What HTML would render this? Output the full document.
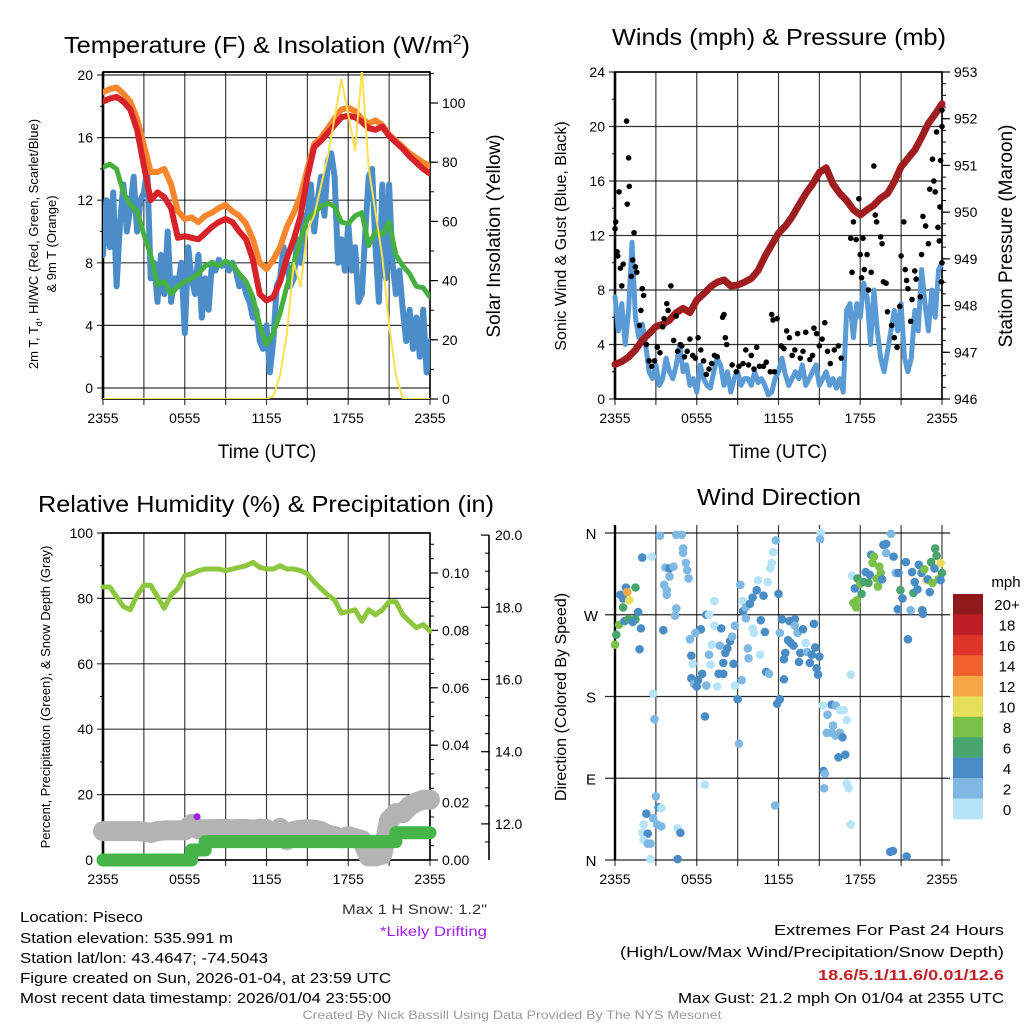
<!DOCTYPE html>
<html><head><meta charset="utf-8"><style>
html,body{margin:0;padding:0;background:#fff;}
svg{display:block;font-family:"Liberation Sans",Arial,sans-serif;}
</style></head><body>
<svg id="root" width="1024" height="1024" viewBox="0 0 1024 1024" xmlns="http://www.w3.org/2000/svg">
<g id="g1"></g>
<g id="g2"></g>
<g id="g3"></g>
<g id="g4"></g>
<g id="gt">
<text x="267" y="53" font-size="23" text-anchor="middle" textLength="406" lengthAdjust="spacingAndGlyphs">Temperature (F) &amp; Insolation (W/m<tspan dy="-9" font-size="14">2</tspan><tspan dy="9">)</tspan></text>
<text x="779" y="45" font-size="23" text-anchor="middle" textLength="334" lengthAdjust="spacingAndGlyphs">Winds (mph) &amp; Pressure (mb)</text>
<text x="266" y="512" font-size="23" text-anchor="middle" textLength="456" lengthAdjust="spacingAndGlyphs">Relative Humidity (%) &amp; Precipitation (in)</text>
<text x="779" y="505" font-size="23" text-anchor="middle" textLength="164" lengthAdjust="spacingAndGlyphs">Wind Direction</text>
<text transform="translate(38,244) rotate(-90)" font-size="13" text-anchor="middle">2m T, T<tspan dy="4" font-size="9">d</tspan><tspan dy="-4">, HI/WC (Red, Green, Scarlet/Blue)</tspan></text>
<text transform="translate(56,244) rotate(-90)" font-size="13" text-anchor="middle">&amp; 9m T (Orange)</text>
<text transform="translate(500,236) rotate(-90)" font-size="19" text-anchor="middle">Solar Insolation (Yellow)</text>
<text x="267" y="458" font-size="19" text-anchor="middle">Time (UTC)</text>
<text transform="translate(566,236) rotate(-90)" font-size="16" text-anchor="middle">Sonic Wind &amp; Gust (Blue, Black)</text>
<text transform="translate(1012,236) rotate(-90)" font-size="19" text-anchor="middle">Station Pressure (Maroon)</text>
<text x="778" y="458" font-size="19" text-anchor="middle">Time (UTC)</text>
<text transform="translate(50,697) rotate(-90)" font-size="13" text-anchor="middle">Percent, Precipitation (Green), &amp; Snow Depth (Gray)</text>
<text transform="translate(566,697) rotate(-90)" font-size="16" text-anchor="middle">Direction (Colored By Speed)</text>
<text x="487" y="914" font-size="14" text-anchor="end" fill="#333" textLength="145" lengthAdjust="spacingAndGlyphs">Max 1 H Snow: 1.2"</text>
<text x="487" y="936" font-size="14" text-anchor="end" fill="#a020f0" textLength="107" lengthAdjust="spacingAndGlyphs">*Likely Drifting</text>
<g font-size="15">
<text x="20" y="922" textLength="123" lengthAdjust="spacingAndGlyphs">Location: Piseco</text>
<text x="20" y="943" textLength="213" lengthAdjust="spacingAndGlyphs">Station elevation: 535.991 m</text>
<text x="20" y="963" textLength="248" lengthAdjust="spacingAndGlyphs">Station lat/lon: 43.4647; -74.5043</text>
<text x="20" y="983" textLength="371" lengthAdjust="spacingAndGlyphs">Figure created on Sun, 2026-01-04, at 23:59 UTC</text>
<text x="20" y="1003" textLength="371" lengthAdjust="spacingAndGlyphs">Most recent data timestamp: 2026/01/04 23:55:00</text>
<text x="1004" y="935" text-anchor="end" textLength="230" lengthAdjust="spacingAndGlyphs">Extremes For Past 24 Hours</text>
<text x="1004" y="957" text-anchor="end" textLength="384" lengthAdjust="spacingAndGlyphs">(High/Low/Max Wind/Precipitation/Snow Depth)</text>
<text x="1004" y="980" text-anchor="end" fill="#c0222a" font-weight="bold" textLength="186" lengthAdjust="spacingAndGlyphs">18.6/5.1/11.6/0.01/12.6</text>
<text x="1004" y="1003" text-anchor="end" textLength="326" lengthAdjust="spacingAndGlyphs">Max Gust: 21.2 mph On 01/04 at 2355 UTC</text>
</g>
<text x="512" y="1019" font-size="12" fill="#999" text-anchor="middle" textLength="419" lengthAdjust="spacingAndGlyphs">Created By Nick Bassill Using Data Provided By The NYS Mesonet</text>
</g>
</svg>
<script>
// ---------- data ----------
const xTickLabels = ["2355","0555","1155","1755","2355"];
const tempT = [18.3,18.5,18.6,18.3,17.8,16.5,14.2,12,12.5,12.2,11.5,9.6,9.7,9.6,9.5,9.9,10.3,10.6,10.8,10.6,10,9.5,8.2,6,5.6,5.8,6.8,8.3,9.5,11,13.5,15.4,15.8,16.3,16.8,17.3,17.4,17.3,17,16.6,16.5,16.7,16.1,15.7,15.3,14.8,14.4,14,13.7];
const temp9m = [18.9,19.1,19.2,18.8,18.3,17.2,15.5,13.8,13.8,14,13,11.3,10.8,10.9,10.6,11,11.2,11.5,11.7,11.3,11,10.5,9.5,8,7.6,8.2,9,10.3,11.2,12.3,14,15.6,16,16.6,17.2,17.8,17.9,17.7,17.2,16.9,17.1,16.8,16.2,15.8,15.4,15,14.7,14.4,14.2];
const dewpoint = [14.1,14.3,14,12.5,11.7,11.3,9.8,8.5,6.6,6.8,6,6.5,6.8,7,7.3,7.8,8,7.8,8.1,7.9,7.3,6.8,5.8,4,2.8,3.5,4.8,6.5,8,9.5,10.8,11.2,11.6,11.8,11.6,10.6,10.5,11,11.2,9.1,10,9.8,10.6,8.5,7.8,7.3,6.5,6.4,5.8];
const windChill = [8.5,12,9,12.5,6.5,10.5,13,10,11.5,13.5,10,12, 12.5,14,7,8,5.5,8.5,6,10,5.5,7,6.5,8, 3.5,9,7,6,8.5,4.5,7,5,8,7.5,8.2,7.8, 8,7.5,8,7.5,6.5,7,6,5.5,4.5,5,3,2.5, 4,1,3,6.5,7,9,8,6.5,7,9.5,8,11, 11,13,10,12,13.5,11,14.5,15,13.5,8,9.5,7.5, 10.5,7.5,9,5.5,6,10,13.5,14,9,5.5,13,7, 13,8,6,7.5,5,3,5,2.5,4.5,2,5,1,3];
const solar = [0,0,0,0,0,0,0,0,0,0,0,0,0,0,0,0,0,0,0,0,0,0,0,0,0,1,8,22,46,38,57,62,72,82,95,108,96,84,111,78,63,48,25,8,0,0,0,0,0];
const pressure = [946.74,946.8,946.9,947.05,947.26,947.4,947.55,947.6,947.69,947.85,947.94,947.85,948.12,948.25,948.4,948.5,948.55,948.42,948.44,948.5,948.58,948.75,949.05,949.3,949.55,949.7,949.9,950.15,950.4,950.6,950.85,950.95,950.6,950.4,950.25,950.05,949.94,950.05,950.15,950.3,950.4,950.65,950.97,951.15,951.33,951.6,951.9,952.1,952.32];
const windSpeed = [7.5,5,7,4,6.5,11.5,6,4.5,5.5,4,2,1.5, 2.5,1,1.5,3,2,1.5,2.5,4,2,2.5,1,1.5, 0.5,2.5,1.5,1,0.8,2,3,2.5,1,2,0.5,1.5, 2,1,1.5,1.5,1,2,1.2,1.5,1,0.3,0.5,1.5, 2,3,1.8,1,1.5,2,1.5,2.5,1,1.5,2,2.5, 1,1.5,2,1,1.5,0.8,1.5,0.5,6.5,7,4.5,7, 6,8.5,7.5,4,8,5,3,2,3.5,5,6.5,5, 7,3,2,3,6.5,5,9.5,7,5,8,6,9.5,10];
const gustHour = [0,0.05,0.15,0.2,0.3,0.4,0.5,0.6,0.85,0.9,1.0,1.05,1.2,1.3,1.4,1.5,1.6,1.8,1.9,2.0,2.1,2.3,2.5,2.7,2.9,3.1,3.3,3.5,3.6,3.8,3.9,4.1,4.3,4.5,4.6,4.8,4.9,5.1,5.3,5.5,5.7,5.9,6.1,6.3,6.5,6.7,6.9,7.1,7.3,7.5,7.9,8.0,8.1,8.2,8.6,8.9,9.1,9.4,9.6,9.8,10.0,10.2,10.4,10.6,10.9,11.1,11.4,11.7,11.5,11.6,11.9,12.2,12.4,12.6,12.8,13.0,13.2,13.4,13.6,13.8,14.0,14.3,14.5,14.6,14.8,15.0,15.2,15.4,15.6,15.8,16.1,16.4,16.6,17.3,17.4,17.5,17.7,17.9,18.0,18.1,18.2,18.3,18.5,18.6,18.8,19.0,19.1,19.2,19.5,19.6,19.7,19.9,20.0,20.3,20.5,20.7,20.9,21.0,21.2,21.3,21.4,21.5,21.7,21.8,22.0,22.1,22.4,22.5,22.6,22.8,23.0,23.1,23.3,23.4,23.5,23.6,23.7,23.8,23.85,23.9,23.95,24,24,24];
const gustSpeed = [12.5,13,10.8,10.5,15.2,9.6,8.3,9.9,20.4,14.3,17.7,15.6,9,10.2,12.2,9.7,9.3,5.4,6.5,8.1,7.6,4,2.8,2.4,2.8,3.8,3.4,5.3,5.9,7,6.5,8.3,4.3,6.1,3.5,4,3.9,3.1,3.5,4.4,3.2,3,4.5,3.6,2.8,1.8,2.2,2.6,3.2,3.1,6,6.2,4.5,4,2.5,2,2.4,2.6,3.6,2.5,3.2,2.2,3.8,2.4,2.4,2.7,2,2,6.2,5.8,5.9,3.9,3.7,5,4.5,3.2,3.6,4.8,3,3.5,4.9,2.9,3.2,5.2,4.8,3.9,4.4,5.6,3.5,2.6,3.6,3.9,3.0,11.8,9.3,13,11.7,14.7,10.6,8.9,11.8,9.5,10.6,8,9.3,17.1,13.5,13,11.9,11.4,8.6,8.5,6.4,5.4,4.5,3.8,6.8,10.5,13,9.5,8.7,8.1,5.7,7.3,9.4,8.8,7.5,10.6,13.4,12.7,11.4,15.4,17.6,16,15.2,19.6,12.6,11.6,14.1,17.5,8.6,20,21.2,10];
const humidity = [83.5,83.5,80.5,77.5,76.5,81,84,84,80.5,77,81,83,87,87.5,88.5,89,89,89,88.5,89,89.5,90,91,89.5,89,89,90,89,89,88.5,87.5,85,83,81,79.5,75.5,76,76.5,73,76.5,75,76.5,79,79,75,73,71,72,70];
const precip = [0,0,0,0,0,0,0,0,0,0,0,0,0,0.0035,0.0035,0.0064,0.0064,0.0064,0.0064,0.0064,0.0064,0.0064,0.0064,0.0064,0.0064,0.0064,0.0064,0.0064,0.0064,0.0064,0.0064,0.0064,0.0064,0.0064,0.0064,0.0064,0.0064,0.0064,0.0064,0.0064,0.0064,0.0064,0.0064,0.0095,0.0095,0.0095,0.0095,0.0095,0.0095];
const snowDepth = [11.8,11.8,11.8,11.8,11.8,11.8,11.78,11.75,11.8,11.82,11.82,11.82,11.82,12.0,11.85,11.85,11.85,11.86,11.86,11.85,11.86,11.86,11.84,11.87,11.86,null,11.89,11.55,11.8,11.84,11.85,11.84,11.8,11.7,11.66,11.6,11.66,11.6,11.55,11.1,11.1,11.15,12.1,12.3,12.3,12.5,12.6,12.67,12.67];
const driftHour = [6.9];
const driftDepth = [12.2];
const dirHour = [0,0.1,0.3,0.4,0.6,0.8,0.9,1.05,0.6,1.5,0.7,1,1.5,1.3,1.7,1.9,1.8,2.0,2.7,2.8,2.9,3.3,3.7,4,3.6,3.8,3.8,4,4.3,4.5,4.4,3.55,4.5,4.9,5,5,5.2,5.3,5.4,
 2.3,2.1,2.0,2.4,2.1,2.4,2.6,2.6,3,3.2,3.4,3.1,3.4,2.8,4.6,4.8,4.6,
 5.5,5.6,5.7,5.6,5.8,6,6.1,6.3,5.9,6.7,6.9,6.7,6.4,6.6,6.6,6.9,7.1,7.0,7.3,7.3,7.5,7.7,7.8,7.6,7.95,7.95,8.1,8.25,8.45,8.6,8.7,8.8,8.8,9,9.1,9.2,9.3,9.4,9.4,9.6,9.6,9.75,9.8,9.9,10.1,10.1,10.2,10.4,10.5,10.65,10.7,10.9,11,11.1,11.2,11.3,11.4,11.5,11.6,11.8,11.75,11.9,12,12.1,12.1,12.25,12.4,12.4,12.5,12.7,12.8,12.9,13.1,13.2,13.2,13.4,13.5,13.6,13.8,14,14.1,14.3,14.45,14.6,14.7,14.8,14.9,15,15.1,15.05,
 15.25,15.6,15.9,16.2,16.5,16.8,17,16,15.55,15.9,16.2,16.5,16.7,16.4,16.9,15.3,15.4,15.35,17,17.15,17.3,17.3,17.4,
 17.5,17.7,17.75,17.6,17.8,18,18.1,18.25,18.4,18.6,18.7,18.8,18.9,19,19.2,19.3,19.4,19.5,19.6,19.7,19.9,19.9,20.25,20.2,20.4,20.45,20.6,20.75,20.8,20.95,21.1,21.35,21.4,21.5,21.7,21.8,21.9,22,22.2,22.3,22.5,22.55,22.6,22.7,22.85,22.95,23.1,23.2,23.3,23.45,23.5,23.6,23.75,23.9,24,23.9];
const dirDeg = [237,248,259,292,288,300,295,286,278,300,263,265,265,262,273,255,232,333,334,183,155,357,322,321,303,297,292,312,323,277,269,253,358,358,343,338,327,319,310,
 51,39,30,29,22,18,18,1,70,58,57,39,37,46,35,30,1,
 243,225,216,200,194,191,198,254,250,270,270,192,205,158,83,226,237,215,258,285,191,236,255,205,205,217,228,233,241,246,216,258,192,177,128,303,198,285,274,266,278,233,222,282,289,255,250,297,308,226,264,291,251,207,306,205,321,327,339,352,60,172,293,177,250,265,199,221,228,242,263,239,236,265,258,250,218,228,254,239,229,217,226,260,234,211,204,224,360,353,
 170,160,171,170,165,165,154,148,140,140,137,140,135,113,116,98,95,79,84,79,39,204,313,
 283,278,286,299,310,304,293,306,317,305,314,336,327,334,310,301,323,316,309,347,348,338,359,9,10,334,316,276,316,297,288,328,4,243,275,317,294,306,298,325,316,275,271,320,308,309,295,328,305,321,343,335,309,327,316,308];
const dirSpeed = [7,6,7,4,4,4,12,10,6,6,4,6,6,4,4,3,3,4,0,0,1,1,2,3,2,2,2,1,2,2,2,3,1,1,2,2,2,2,2,
 3,0,0,3,0,2,2,0,1,3,0,2,2,1,0,3,3,
 1,3,0,3,2,3,3,3,1,3,0,1,3,3,0,2,0,0,0,0,0,2,3,3,4,3,3,3,3,2,3,1,0,4,1,1,1,0,3,2,2,1,1,3,3,0,0,3,0,0,3,3,3,4,0,2,0,0,0,1,1,3,4,3,2,4,3,3,3,3,3,3,3,3,2,1,3,3,3,0,2,3,3,4,3,3,3,4,0,1,
 0,2,3,2,0,0,0,1,2,2,2,2,3,3,3,3,2,2,0,0,0,0,0,
 7,7,7,4,6,7,6,6,4,6,4,4,8,8,8,8,7,8,4,4,4,2,2,3,3,4,2,4,4,6,4,3,4,3,2,4,6,4,4,4,4,4,4,7,10,4,4,6,8,4,6,6,8,10,6,4];
const speedBins = ["0","2","4","6","8","10","12","14","16","18","20+"];
const speedColors = ["#b5e3f7","#7fb8e2","#4a8dc6","#49a56b","#7ac14a","#e6df5a","#f5a844","#ef602d","#de3329","#be1e25","#8f1a1b"];
const dirLabels = ["N","W","S","E","N"];

// ---------- helpers ----------
const NS = "http://www.w3.org/2000/svg";
function mk(tag, parent, attrs){const e=document.createElementNS(NS,tag);for(const k in attrs)e.setAttribute(k,attrs[k]);parent.appendChild(e);return e;}
function halfHours(n){const a=[];for(let i=0;i<n;i++)a.push(i*24/(n-1));return a;}
function linePath(ts, vs, xf, yf, step){let d="";let pen=false;let prevY=null;
 for(let i=0;i<vs.length;i++){if(vs[i]===null||vs[i]===undefined){pen=false;continue;}
  const x=xf(ts[i]).toFixed(1), y=yf(vs[i]).toFixed(1);
  if(!pen){d+="M"+x+" "+y;pen=true;}else{ if(step) d+="L"+x+" "+prevY; d+="L"+x+" "+y;}
  prevY=y;}
 return d;}

function frame(g, L, R, T, B, yTicks, yf, yLabels, yMinor, withVGrid){
 // gridlines
 for(let k=0;k<=8;k++){const x=L+(R-L)*k/8;
  const gl=mk("line",g,{x1:x,x2:x,y1:T,y2:B+6,stroke:"#000","stroke-width":1.2,"stroke-opacity":0.75});
  
  }
 for(let i=0;i<yTicks.length;i++){const y=yf(yTicks[i]);
  const hl=mk("line",g,{x1:L-6,x2:R,y1:y,y2:y,stroke:"#000","stroke-width":1.2,"stroke-opacity":0.8});
  
  
  const t=mk("text",g,{x:L-10,y:y+5,"font-size":14,"text-anchor":"end"});t.textContent=yLabels[i];
  
  }
 for(const v of yMinor){const y=yf(v);
  const ml=mk("line",g,{x1:L-3,x2:L,y1:y,y2:y,stroke:"#000","stroke-width":1});
  
  }
 const border=mk("rect",g,{x:L,y:T,width:R-L,height:B-T,fill:"none",stroke:"#000","stroke-width":1.6});
 
 
 const lft=mk("line",g,{x1:L,x2:L,y1:T,y2:B,stroke:"#000","stroke-width":2.6});
 
 
 for(let i=0;i<xTickLabels.length;i++){const x=L+(R-L)*i/4;
  const t=mk("text",g,{x:x,y:B+24,"font-size":14,"text-anchor":"middle"});t.textContent=xTickLabels[i];
  
  }
}
function rightAxis(g, X, ticks, yf, labels, minor, fmtX){
 for(let i=0;i<ticks.length;i++){const y=yf(ticks[i]);
  const tl=mk("line",g,{x1:X,x2:X+8,y1:y,y2:y,stroke:"#000","stroke-width":1.2});
  
  
  const t=mk("text",g,{x:X+(fmtX||12),y:y+5,"font-size":14});t.textContent=labels[i];
  
  }
 for(const v of minor){const y=yf(v);
  const ml=mk("line",g,{x1:X,x2:X+4,y1:y,y2:y,stroke:"#000","stroke-width":1});
  
  }
}
function range(a,b,s){const r=[];for(let v=a;v<=b+1e-9;v+=s)r.push(+v.toFixed(4));return r;}

// ---------- panel 1 ----------
(function(){
 const g=document.getElementById("g1");
 const L=103,R=430,T=72,B=399;
 const xf=t=>L+(R-L)*t/24;
 const yf=v=>388-v*15.65;
 const sf=v=>399-v*2.96;
 frame(g,L,R,T,B,[0,4,8,12,16,20],yf,["0","4","8","12","16","20"],range(2,18,4),true);
 const top=mk("line",g,{x1:L,x2:R,y1:T,y2:T,stroke:"#000","stroke-width":1.4});
 
 
 rightAxis(g,R,[0,20,40,60,80,100],sf,["0","20","40","60","80","100"],range(10,110,10));
 const hh=halfHours(49), qh=halfHours(97);
 const clip=mk("clipPath",g,{id:"c1"});mk("rect",clip,{x:L,y:T,width:R-L,height:B-T});
 const p1=mk("g",g,{"clip-path":"url(#c1)"});
 let e;
 e=mk("path",p1,{d:linePath(qh,windChill,xf,yf),fill:"none",stroke:"#4a8dc8","stroke-width":6,"stroke-linejoin":"round","stroke-linecap":"round"});
 
 
 e=mk("path",p1,{d:linePath(hh,dewpoint,xf,yf),fill:"none",stroke:"#45b03f","stroke-width":5,"stroke-linejoin":"round","stroke-linecap":"round"});
 
 
 e=mk("path",p1,{d:linePath(hh,temp9m,xf,yf),fill:"none",stroke:"#f7862f","stroke-width":6,"stroke-linejoin":"round","stroke-linecap":"round"});
 
 
 e=mk("path",p1,{d:linePath(hh,tempT,xf,yf),fill:"none",stroke:"#d7222a","stroke-width":6,"stroke-linejoin":"round","stroke-linecap":"round"});
 
 
 e=mk("path",p1,{d:linePath(hh,solar,xf,sf),fill:"none",stroke:"#fbe04f","stroke-width":2,"stroke-linejoin":"round"});
 
 
})();

// ---------- panel 2 ----------
(function(){
 const g=document.getElementById("g2");
 const L=615,R=942,T=72,B=399;
 const xf=t=>L+(R-L)*t/24;
 const yf=v=>B-v*(B-T)/24;
 const pf=p=>B-(p-946)*(B-T)/7;
 frame(g,L,R,T,B,[0,4,8,12,16,20,24],yf,["0","4","8","12","16","20","24"],range(2,22,4),true);
 rightAxis(g,R,[946,947,948,949,950,951,952,953],pf,["946","947","948","949","950","951","952","953"],range(946.25,952.75,0.25));
 const hh=halfHours(49), qh=halfHours(97);
 let e;
 e=mk("path",g,{d:linePath(qh,windSpeed,xf,yf),fill:"none",stroke:"#5a9bd5","stroke-width":5,"stroke-linejoin":"round","stroke-linecap":"round"});
 
 
 e=mk("path",g,{d:linePath(hh,pressure,xf,pf),fill:"none",stroke:"#a01d1f","stroke-width":7,"stroke-linejoin":"round","stroke-linecap":"round"});
 
 
 for(let i=0;i<gustHour.length;i++){
  const c=mk("circle",g,{cx:xf(gustHour[i]),cy:yf(gustSpeed[i]),r:2.8,fill:"#000"});
  
  }
})();

// ---------- panel 3 ----------
(function(){
 const g=document.getElementById("g3");
 const L=103,R=430,T=533,B=860;
 const xf=t=>L+(R-L)*t/24;
 const yf=v=>B-v*(B-T)/100;
 const rf=v=>B-v*2870;
 const sf=v=>B-(v-11)*36.1;
 frame(g,L,R,T,B,[0,20,40,60,80,100],yf,["0","20","40","60","80","100"],range(10,90,20),true);
 rightAxis(g,R,[0,0.02,0.04,0.06,0.08,0.1],rf,["0.00","0.02","0.04","0.06","0.08","0.10"],range(0.005,0.11,0.005));
 const ax=mk("line",g,{x1:489,x2:489,y1:535,y2:860,stroke:"#000","stroke-width":1.6});
 
 
 for(const v of [12,14,16,18,20]){const y=sf(v);
  const tl=mk("line",g,{x1:481,x2:489,y1:y,y2:y,stroke:"#000","stroke-width":1.2});
  
  
  const t=mk("text",g,{x:495,y:y+5,"font-size":14});t.textContent=v.toFixed(1);
  
  }
 for(const v of range(11.5,19.5,0.5)){const y=sf(v);
  const ml=mk("line",g,{x1:485,x2:489,y1:y,y2:y,stroke:"#000","stroke-width":1});
  
  }
 const hh=halfHours(49);
 let e;
 e=mk("path",g,{d:linePath(hh,snowDepth,xf,sf),fill:"none",stroke:"#b3b3b3","stroke-width":20,"stroke-linejoin":"round","stroke-linecap":"round"});
 
 
 e=mk("path",g,{d:linePath(hh,precip,xf,rf,true),fill:"none",stroke:"#45b549","stroke-width":13,"stroke-linejoin":"round","stroke-linecap":"round"});
 
 
 e=mk("path",g,{d:linePath(hh,humidity,xf,yf),fill:"none",stroke:"#8dc63f","stroke-width":5,"stroke-linejoin":"round","stroke-linecap":"round"});
 
 
 for(let i=0;i<driftHour.length;i++){
  const c=mk("circle",g,{cx:xf(driftHour[i]),cy:sf(driftDepth[i]),r:3.5,fill:"#a020f0"});
  
  }
})();

// ---------- panel 4 ----------
(function(){
 const g=document.getElementById("g4");
 const L=615,R=942,T=533,B=860;
 const xf=t=>L+(R-L)*t/24;
 const yf=d=>B-d*(B-T)/360;
 for(let k=0;k<=8;k++){const x=L+(R-L)*k/8;
  const gl=mk("line",g,{x1:x,x2:x,y1:T-8,y2:B+6,stroke:"#000","stroke-width":1.2,"stroke-opacity":0.75});
  
  }
 for(let i=0;i<dirLabels.length;i++){const y=yf(360-i*90);
  const hl=mk("line",g,{x1:L-10,x2:950,y1:y,y2:y,stroke:"#000","stroke-width":1.2,"stroke-opacity":0.85});
  
  
  const t=mk("text",g,{x:591,y:y+6,"font-size":15,"text-anchor":"middle"});t.textContent=dirLabels[i];
  
  }
 const lft=mk("line",g,{x1:L,x2:L,y1:T-8,y2:B,stroke:"#000","stroke-width":2.4});
 
 
 for(let i=0;i<xTickLabels.length;i++){const x=L+(R-L)*i/4;
  const t=mk("text",g,{x:x,y:B+24,"font-size":14,"text-anchor":"middle"});t.textContent=xTickLabels[i];
  
  }
 const binOf=s=>s<1?0:s<3?1:s<5?2:s<7?3:s<9?4:s<11?5:s<13?6:s<15?7:s<17?8:s<19?9:10;
 for(let i=0;i<dirHour.length;i++){
  const c=mk("circle",g,{cx:xf(dirHour[i]),cy:yf(dirDeg[i]),r:4.3,fill:speedColors[binOf(dirSpeed[i])]});
  
  }
 // colorbar
 const cbTop=594,cbH=225/11;
 for(let i=0;i<speedBins.length;i++){const idx=speedBins.length-1-i;const y=cbTop+i*cbH;
  const r=mk("rect",g,{x:953,y:y,width:30,height:cbH+0.3,fill:speedColors[idx]});
  
  
  const t=mk("text",g,{x:1007,y:y+cbH/2+6,"font-size":15,"text-anchor":"middle"});t.textContent=speedBins[idx];
  
  }
 const u=mk("text",g,{x:1006,y:587,"font-size":15,"text-anchor":"middle"});u.textContent="mph";
 
 
})();
</script>
</body></html>
